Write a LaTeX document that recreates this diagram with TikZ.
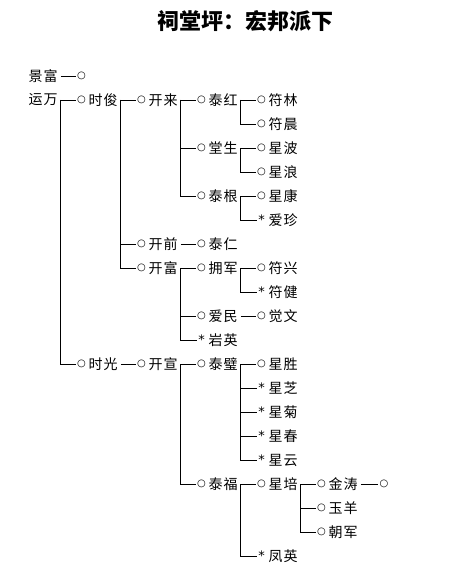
\documentclass[tikz,border=0pt]{standalone}
\usepackage{fontspec}
\setmainfont{Noto Sans CJK SC}
\newfontfamily\symfont{DejaVu Sans}
\newcommand\pp[5]{%
  \node[mk] (m-#1) at ({21.5+60*#2},{76+24*#3}) {#4};
  \node[nm] (#1) at ({28.5+60*#2},{76+24*#3}) {#5};}
\begin{document}
\begin{tikzpicture}[x=1pt,y=-1pt,
  nm/.style={anchor=west, inner sep=0pt, text width=32pt, font=\fontsize{14}{14}\selectfont\addfontfeature{LetterSpace=7}},
  mk/.style={inner sep=0pt, font=\symfont\fontsize{10}{10}\selectfont},
  ln/.style={line width=0.9pt, shorten >=1pt},
  ttl/.style={inner sep=0pt, font=\fontsize{22}{22}\selectfont\bfseries}]
\useasboundingbox (0,0) rectangle (476,583);
\node[ttl] (title) at (245,21) {祠堂坪：宏邦派下};
% level 0
\node[nm] (a0) at (28.5,76) {景富};
\node[nm] (a1) at (28.5,100) {运万};
\node[mk] (m-b0) at (81.5,76) {○};
% level 1
\pp{b1}{1}{1}{○}{时俊}
\pp{b12}{1}{12}{○}{时光}
% level 2
\pp{c1}{2}{1}{○}{开来}
\pp{c7}{2}{7}{○}{开前}
\pp{c8}{2}{8}{○}{开富}
\pp{c12}{2}{12}{○}{开宣}
% level 3
\pp{d1}{3}{1}{○}{泰红}
\pp{d3}{3}{3}{○}{堂生}
\pp{d5}{3}{5}{○}{泰根}
\pp{d7}{3}{7}{○}{泰仁}
\pp{d8}{3}{8}{○}{拥军}
\pp{d10}{3}{10}{○}{爱民}
\pp{d11}{3}{11}{\fontsize{13}{13}\selectfont *}{岩英}
\pp{d12}{3}{12}{○}{泰璧}
\pp{d17}{3}{17}{○}{泰福}
% level 4
\pp{e1}{4}{1}{○}{符林}
\pp{e2}{4}{2}{○}{符晨}
\pp{e3}{4}{3}{○}{星波}
\pp{e4}{4}{4}{○}{星浪}
\pp{e5}{4}{5}{○}{星康}
\pp{e6}{4}{6}{\fontsize{13}{13}\selectfont *}{爱珍}
\pp{e8}{4}{8}{○}{符兴}
\pp{e9}{4}{9}{\fontsize{13}{13}\selectfont *}{符健}
\pp{e10}{4}{10}{○}{觉文}
\pp{e12}{4}{12}{○}{星胜}
\pp{e13}{4}{13}{\fontsize{13}{13}\selectfont *}{星芝}
\pp{e14}{4}{14}{\fontsize{13}{13}\selectfont *}{星菊}
\pp{e15}{4}{15}{\fontsize{13}{13}\selectfont *}{星春}
\pp{e16}{4}{16}{\fontsize{13}{13}\selectfont *}{星云}
\pp{e17}{4}{17}{○}{星培}
\pp{e20}{4}{20}{\fontsize{13}{13}\selectfont *}{凤英}
% level 5
\pp{f17}{5}{17}{○}{金涛}
\pp{f18}{5}{18}{○}{玉羊}
\pp{f19}{5}{19}{○}{朝军}
\node[mk] (m-g17) at (384,484) {○};
% connectors
\foreach \p/\c in {a0/b0, a1/b1, a1/b12, b1/c1, b1/c7, b1/c8,
  c1/d1, c1/d3, c1/d5, c7/d7, c8/d8, c8/d10, c8/d11, b12/c12,
  c12/d12, c12/d17, d1/e1, d1/e2, d3/e3, d3/e4, d5/e5, d5/e6,
  d8/e8, d8/e9, d10/e10, d12/e12, d12/e13, d12/e14, d12/e15, d12/e16,
  d17/e17, d17/e20, e17/f17, e17/f18, e17/f19, f17/g17}
  \draw[ln] (\p.east) |- (m-\c.west);
\end{tikzpicture}
\end{document}
